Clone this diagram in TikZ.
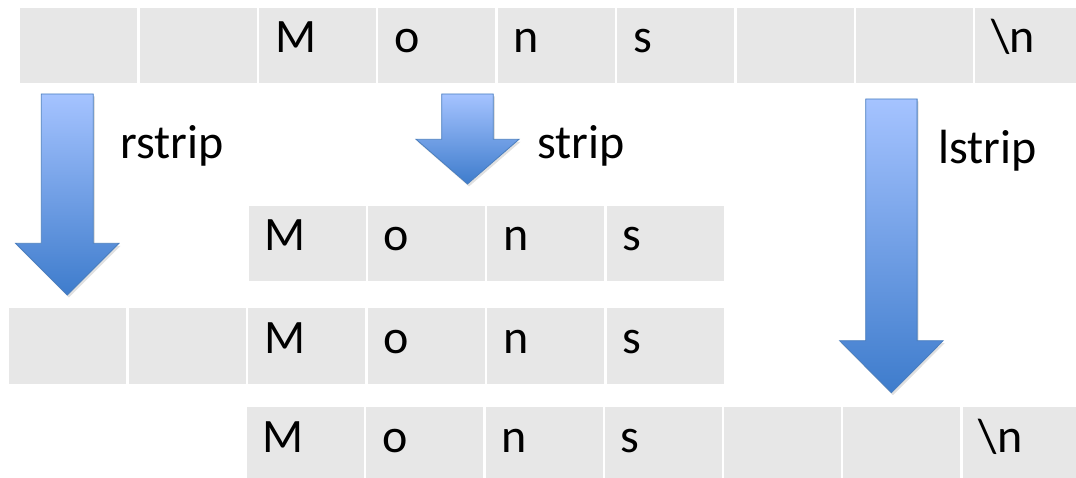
\documentclass[tikz,border=0pt]{standalone}
\usepackage{fontspec}
\setmainfont{Carlito}
\definecolor{cellgray}{RGB}{231,231,231}
\definecolor{arrtop}{RGB}{165,195,255}
\definecolor{arrbot}{RGB}{62,124,204}
\definecolor{arrline}{RGB}{74,126,190}
\newcommand\blkarrow[6]{%
  \fill[black, opacity=0.12, xshift=1.5pt, yshift=-2.5pt]
    (#1-#2,#4) -- (#1+#2,#4) -- (#1+#2,#5) -- (#1+#3,#5) -- (#1,#6) -- (#1-#3,#5) -- (#1-#2,#5) -- cycle;
  \shade[top color=arrtop, bottom color=arrbot, draw=arrline, line width=0.8pt]
    (#1-#2,#4) -- (#1+#2,#4) -- (#1+#2,#5) -- (#1+#3,#5) -- (#1,#6) -- (#1-#3,#5) -- (#1-#2,#5) -- cycle;
}
\begin{document}
\begin{tikzpicture}[x=1pt, y=-1pt,
  cell/.style={fill=cellgray, draw=none, rectangle, anchor=north west,
    minimum width=117pt, minimum height=75pt, inner sep=0pt},
  ctext/.style={anchor=base west, inner sep=0pt, font=\fontsize{48}{56}\selectfont},
  lbl/.style={anchor=base west, inner sep=0pt, font=\fontsize{48}{56}\selectfont}]
\useasboundingbox (0,0) rectangle (1076,478);
\clip (0,0) rectangle (1076,478);
% row 1 (original)
\foreach \t [count=\i from 0] in {{},{},M,o,n,s,{},{},\textbackslash n}{
  \node[cell] (a\i) at (20+119.4*\i, 8) {};
  \node[ctext] (ta\i) at ([shift={(16pt,-45pt)}]a\i.north west) {\t};
}
% row 2 (strip)
\foreach \t [count=\i from 0] in {M,o,n,s}{
  \node[cell] (b\i) at (248.3+119.4*\i, 205.7) {};
  \node[ctext] (tb\i) at ([shift={(16pt,-45pt)}]b\i.north west) {\t};
}
% row 3 (rstrip)
\foreach \t [count=\i from 0] in {{},{},M,o,n,s}{
  \node[cell] (c\i) at (9+119.5*\i, 308.3) {};
  \node[ctext] (tc\i) at ([shift={(16pt,-45pt)}]c\i.north west) {\t};
}
% row 4 (lstrip)
\foreach \t [count=\i from 0] in {M,o,n,s,{},{},\textbackslash n}{
  \node[cell] (d\i) at (246.7+119.3*\i, 407) {};
  \node[ctext] (td\i) at ([shift={(16pt,-45pt)}]d\i.north west) {\t};
}
% arrows
\blkarrow{67.3}{26}{51.7}{94}{243.3}{295}
\blkarrow{467.5}{25.8}{51.5}{94}{139.3}{184}
\blkarrow{891.4}{25.7}{51.8}{99}{340.7}{392.7}
% labels
\node[lbl] (lr) at (120,159) {rstrip};
\node[lbl] (ls) at (537,159) {strip};
\node[lbl] (ll) at (938,163.3) {lstrip};
\end{tikzpicture}
\end{document}
